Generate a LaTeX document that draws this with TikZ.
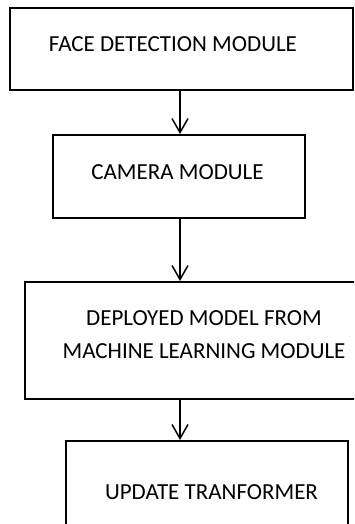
\documentclass[tikz,border=0pt]{standalone}
\usepackage{fontspec}
\setmainfont{Carlito}
\usetikzlibrary{arrows.meta}
\begin{document}
\begin{tikzpicture}[x=1pt,y=-1pt,
  box/.style={draw,line width=2pt,inner sep=0pt},
  txt/.style={inner sep=0pt,align=center,font=\fontsize{23}{33}\selectfont},
  flow/.style={line width=1.5pt,-{Straight Barb[length=14pt,width=16pt]}}]
\useasboundingbox (0,0) rectangle (354,524);
\clip (0,0) rectangle (354,524);

% boxes
\node[box,minimum width=343pt,minimum height=82pt] (face) at (181.5,49) {};
\node[box,minimum width=252pt,minimum height=83pt] (camera) at (179,176.5) {};
\node[box,minimum width=332pt,minimum height=117pt] (model) at (191,340.5) {};
\node[box,minimum width=282pt,minimum height=84pt] (update) at (207,483) {};

% texts
\node[txt,anchor=base] (facetxt) at (173,52) {FACE DETECTION MODULE};
\node[txt,anchor=base] (cameratxt) at (177.5,179) {CAMERA MODULE};
\node[txt] (modeltxt) at (204,335) {DEPLOYED MODEL FROM\\MACHINE LEARNING MODULE};
\node[txt,anchor=base] (updatetxt) at (211.5,499) {UPDATE TRANFORMER};

% arrows
\coordinate (axis) at (180,0);
\draw[flow] (axis |- face.south) -- (axis |- camera.north);
\draw[flow] (axis |- camera.south) -- (axis |- model.north);
\draw[flow] (axis |- model.south) -- (axis |- update.north);
\end{tikzpicture}
\end{document}
